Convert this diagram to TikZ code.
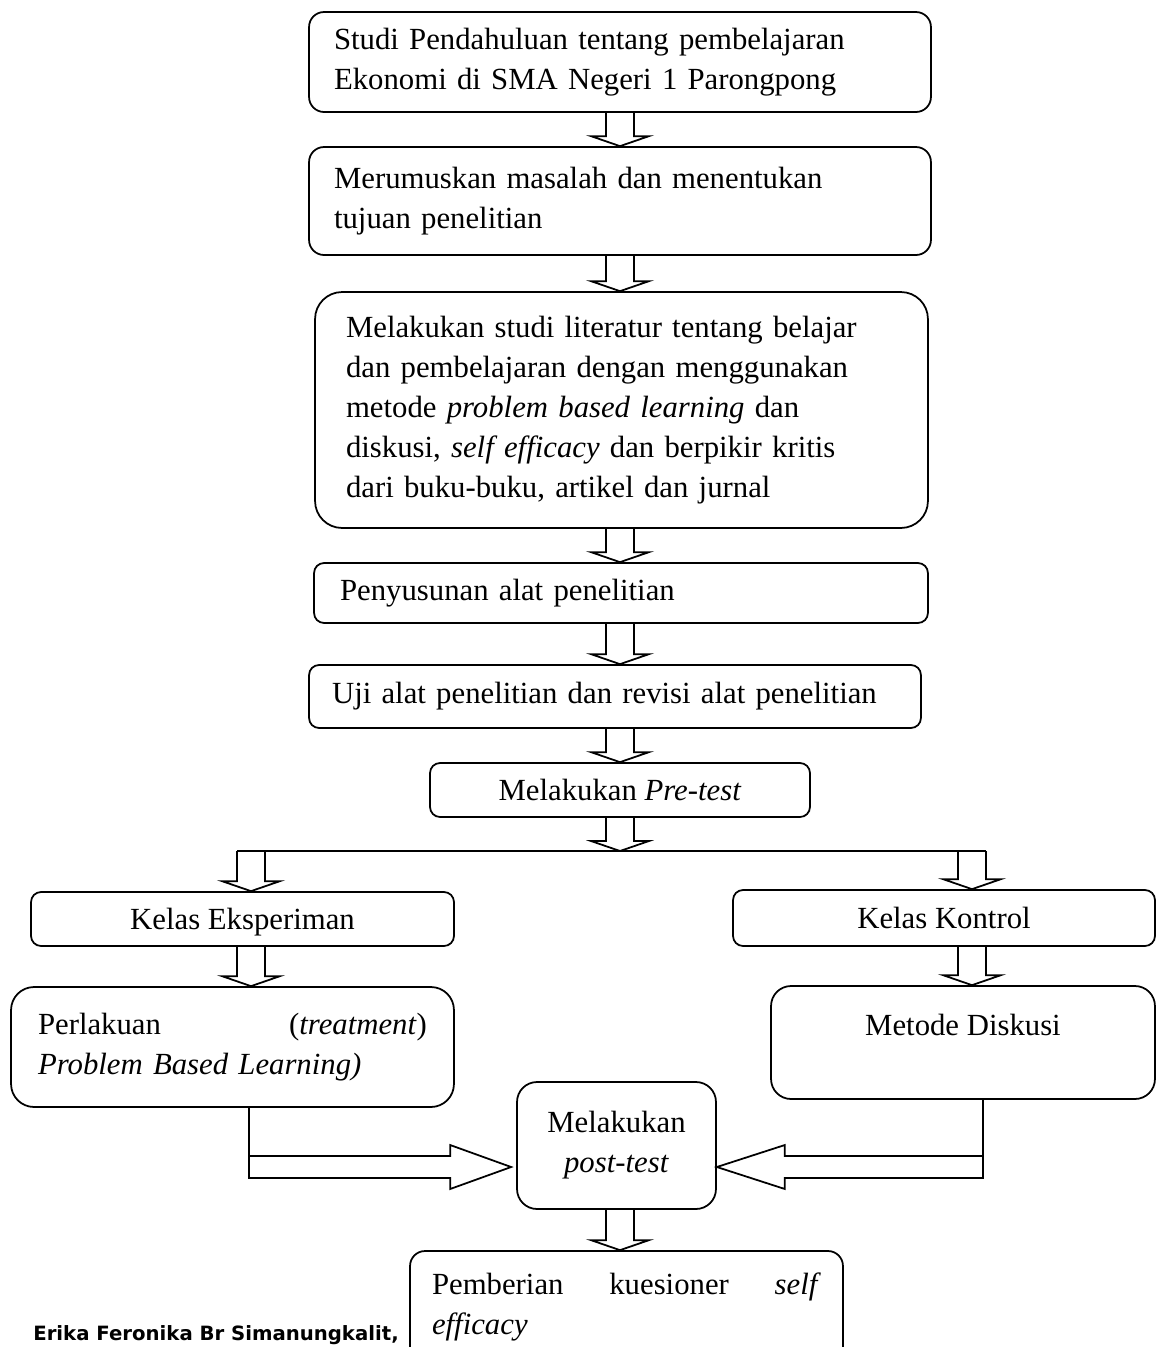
\documentclass[tikz,border=0pt]{standalone}
\usepackage{fontspec}
\setmainfont{Liberation Serif}
\newfontfamily\authorfont{DejaVu Sans}
\usetikzlibrary{calc}

\newcommand{\stagefont}{\fontsize{17.5}{22.7}\selectfont}
\newcommand{\hdown}[3]{%
  \draw[hollow] ($(#2 -| #1)+(-14,0)$) -- ($(#3 -| #1)+(-14,-10)$) -- ++(-15,0) -- (#3 -| #1)
    -- ($(#3 -| #1)+(29,-10)$) -- ++(-15,0) -- ($(#2 -| #1)+(14,0)$);}

\tikzset{
  stage/.style={draw, line width=1pt, align=left, inner ysep=0pt, font=\stagefont},
  hollow/.style={line width=1pt},
}

\begin{document}
\begin{tikzpicture}[x=0.02cm, y=-0.02cm] % flow of the research steps
       \useasboundingbox (0,0) rectangle (1157,1347);
       \clip (0,0) rectangle (1157,1347);
       \coordinate (mid) at (620,0);
       \coordinate (lcol) at (251,0);
       \coordinate (rcol) at (972,0);
       \coordinate (lline) at (249,0);
       \coordinate (rline) at (983,0);
       \coordinate (split) at (0,851);
       \coordinate (lvl) at (0,1167);

       \node[stage, rounded corners=0.3cm, text width=11.44cm, inner xsep=0.5cm, minimum height=2cm] (studi) at (620,62)
            {Studi Pendahuluan tentang pembelajaran\\Ekonomi di SMA Negeri 1 Parongpong};
       \node[stage, rounded corners=0.3cm, text width=11.44cm, inner xsep=0.5cm, minimum height=2.16cm] (rumus) at (620,201)
            {Merumuskan masalah dan menentukan\\tujuan penelitian};
       \node[stage, rounded corners=0.54cm, text width=11.02cm, inner xsep=0.62cm, minimum height=4.72cm] (literatur) at (621.5,410)
            {Melakukan studi literatur tentang belajar\\
             dan pembelajaran dengan menggunakan\\
             metode \textit{problem based learning} dan\\
             diskusi, \textit{self efficacy} dan berpikir kritis\\
             dari buku-buku, artikel dan jurnal};
       \node[stage, rounded corners=0.2cm, text width=11.24cm, inner xsep=0.52cm, minimum height=1.2cm] (susun) at (621,593)
            {Penyusunan alat penelitian};
       \node[stage, rounded corners=0.2cm, text width=11.32cm, inner xsep=0.46cm, minimum height=1.26cm] (uji) at (615,696.5)
            {Uji alat penelitian dan revisi alat penelitian};
       \node[stage, align=center, rounded corners=0.2cm, minimum width=7.6cm, minimum height=1.08cm] (pre) at (620,790)
            {Melakukan \textit{Pre-test}};
       \node[stage, align=center, rounded corners=0.2cm, minimum width=8.46cm, minimum height=1.08cm, text depth=0pt] (eks) at (242.5,919)
            {Kelas Eksperiman};
       \node[stage, align=center, rounded corners=0.2cm, minimum width=8.44cm, minimum height=1.12cm] (kon) at (944,918)
            {Kelas Kontrol};
       \node[stage, rounded corners=0.46cm, text width=7.78cm, inner xsep=0.54cm, minimum height=2.4cm] (perl) at (232.5,1047)
            {Perlakuan \hfill (\textit{treatment})\\\textit{Problem Based Learning)}};
       \node[stage, align=center, rounded corners=0.4cm, minimum width=7.68cm, minimum height=2.26cm, text depth=0.7cm] (dis) at (963,1042.5)
            {Metode Diskusi};
       \node[stage, align=center, rounded corners=0.4cm, minimum width=3.98cm, minimum height=2.54cm] (post) at (616.5,1145.5)
            {Melakukan\\\textit{post-test}};
       \node[stage, rounded corners=0.3cm, text width=7.78cm, inner xsep=0.44cm, minimum height=2.24cm] (kues) at (626.5,1307)
            {Pemberian \hfill kuesioner \hfill \textit{self}\\\textit{efficacy}};
       \node[font=\authorfont\bfseries\fontsize{11.2}{13}\selectfont, anchor=base west, inner sep=0pt] (author) at (33,1340)
            {Erika Feronika Br Simanungkalit,};

       \hdown{mid}{studi.south}{rumus.north}
       \hdown{mid}{rumus.south}{literatur.north}
       \hdown{mid}{literatur.south}{susun.north}
       \hdown{mid}{susun.south}{uji.north}
       \hdown{mid}{uji.south}{pre.north}
       \hdown{mid}{pre.south}{split}
       \draw[hollow] ($(split -| lcol)+(-14,0)$) -- ($(split -| rcol)+(14,0)$);
       \hdown{lcol}{split}{eks.north}
       \hdown{rcol}{split}{kon.north}
       \hdown{lcol}{eks.south}{perl.north}
       \hdown{rcol}{kon.south}{dis.north}
       \draw[hollow] (perl.south -| lline) -- ($(lline |- lvl)+(0,11)$) -- ($(post.west |- lvl)+(-66,11)$) -- ++(0,11)
            -- ($(post.west |- lvl)+(-5,0)$) -- ($(post.west |- lvl)+(-66,-22)$) -- ++(0,11) -- ($(lline |- lvl)+(0,-11)$);
       \draw[hollow] (dis.south -| rline) -- ($(rline |- lvl)+(0,11)$) -- ($(post.east |- lvl)+(68,11)$) -- ++(0,11)
            -- (post.east |- lvl) -- ($(post.east |- lvl)+(68,-22)$) -- ++(0,11) -- ($(rline |- lvl)+(0,-11)$);
       \hdown{mid}{post.south}{kues.north}
\end{tikzpicture}
\end{document}
